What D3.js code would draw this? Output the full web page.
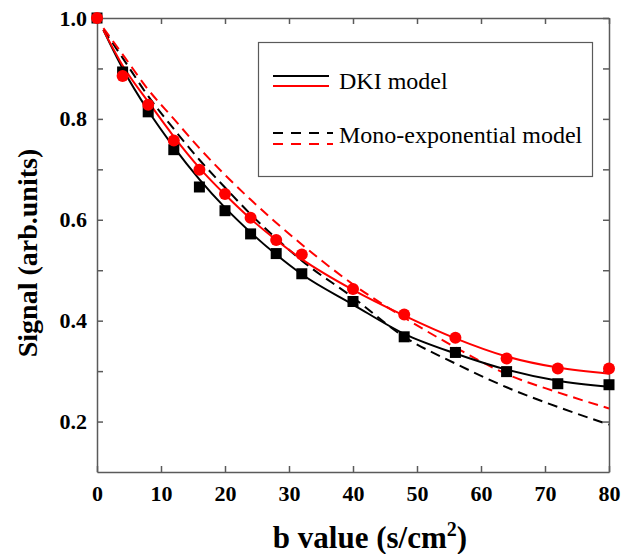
<!DOCTYPE html>
<html>
<head>
<meta charset="utf-8">
<script src="https://cdn.jsdelivr.net/npm/d3@7"></script>
<style>
  body { margin: 0; background: #fff; }
  .tick text { font-family: 'Liberation Serif', serif; font-weight: bold; font-size: 22px; fill: #000; }
  .axis path, .axis line { stroke: #5a5a5a; stroke-width: 1.5; }
</style>
</head>
<body>
<div id="chart-area"></div>
<script>
// measured points
const bValues = [0, 4, 8, 12, 16, 20, 24, 28, 32, 40, 48, 56, 64, 72, 80]
const blackSignal = [1.0, 0.893, 0.814, 0.739, 0.665, 0.618, 0.572, 0.533, 0.493, 0.438, 0.368, 0.337, 0.299, 0.275, 0.273]
const redSignal = [1.0, 0.885, 0.828, 0.757, 0.699, 0.651, 0.604, 0.560, 0.531, 0.463, 0.412, 0.366, 0.325, 0.305, 0.305]

// fitted curves
const fitB = [1, 4, 8, 12, 16, 20, 24, 28, 32, 40, 48, 56, 64, 72, 80]
const blackDKI = [0.976, 0.900, 0.816, 0.744, 0.680, 0.624, 0.575, 0.531, 0.492, 0.432, 0.374, 0.335, 0.303, 0.281, 0.269]
const redDKI = [0.976, 0.906, 0.834, 0.765, 0.703, 0.650, 0.602, 0.560, 0.522, 0.461, 0.410, 0.365, 0.329, 0.307, 0.295]
const blackMono = [0.977, 0.921, 0.845, 0.780, 0.719, 0.664, 0.611, 0.563, 0.519, 0.446, 0.368, 0.315, 0.268, 0.229, 0.194]
const redMono = [0.980, 0.928, 0.858, 0.800, 0.742, 0.689, 0.640, 0.594, 0.551, 0.472, 0.406, 0.347, 0.294, 0.258, 0.226]

const xTicks = [0, 10, 20, 30, 40, 50, 60, 70, 80]
const yTicks = [0.2, 0.3, 0.4, 0.5, 0.6, 0.7, 0.8, 0.9, 1.0]
const yTickLabels = ['0.2', '', '0.4', '', '0.6', '', '0.8', '', '1.0']

const width = 621
const height = 554

const svg = d3.select('#chart-area').append('svg')
  .attr('width', width)
  .attr('height', height)

const x = d3.scaleLinear()
  .domain([0, 80])
  .range([97, 609])

const y = d3.scaleLinear()
  .domain([0.1, 1.0])
  .range([472, 18])

// axes, ticks point inward
const xAxisCall = d3.axisBottom(x)
  .tickValues(xTicks)
  .tickSizeInner(-6)
  .tickSizeOuter(0)
  .tickPadding(13)
svg.append('g')
  .attr('class', 'axis')
  .attr('transform', `translate(0,${y(0.1)})`)
  .call(xAxisCall)

const yAxisCall = d3.axisLeft(y)
  .tickValues(yTicks)
  .tickSizeInner(-6)
  .tickSizeOuter(0)
  .tickPadding(10)
  .tickFormat((d, i) => yTickLabels[i])
svg.append('g')
  .attr('class', 'axis')
  .attr('transform', `translate(${x(0)},0)`)
  .call(yAxisCall)

svg.append('g')
  .attr('class', 'axis')
  .attr('transform', `translate(0,${y(1.0)})`)
  .call(d3.axisTop(x).tickValues(xTicks).tickSizeInner(-6).tickSizeOuter(0).tickFormat(''))

svg.append('g')
  .attr('class', 'axis')
  .attr('transform', `translate(${x(80)},0)`)
  .call(d3.axisRight(y).tickValues(yTicks).tickSizeInner(-6).tickSizeOuter(0).tickFormat(''))

svg.selectAll('.axis .domain').attr('stroke', '#5a5a5a')

// fitted lines
const line = d3.line()
  .x(d => x(d[0]))
  .y(d => y(d[1]))
  .curve(d3.curveMonotoneX)

const fits = [
  {vals: blackMono, color: '#000', dash: '10,6'},
  {vals: redMono, color: '#f00', dash: '10,6'},
  {vals: blackDKI, color: '#000', dash: null},
  {vals: redDKI, color: '#f00', dash: null}
]

fits.forEach(f => {
  svg.append('path')
    .datum(fitB.map((b, i) => [b, f.vals[i]]))
    .attr('fill', 'none')
    .attr('stroke', f.color)
    .attr('stroke-width', 2)
    .attr('stroke-dasharray', f.dash)
    .attr('d', line)
})

// data markers
svg.selectAll('.sq')
  .data(bValues.map((b, i) => [b, blackSignal[i]]))
  .enter().append('rect')
    .attr('class', 'sq')
    .attr('x', d => x(d[0]) - 5.5)
    .attr('y', d => y(d[1]) - 5.5)
    .attr('width', 11)
    .attr('height', 11)
    .attr('fill', '#000')

svg.selectAll('.dot')
  .data(bValues.map((b, i) => [b, redSignal[i]]))
  .enter().append('circle')
    .attr('class', 'dot')
    .attr('cx', d => x(d[0]))
    .attr('cy', d => y(d[1]))
    .attr('r', 6)
    .attr('fill', '#f00')

// legend
const legend = svg.append('g')
legend.append('rect')
  .attr('x', 258.5).attr('y', 42.5)
  .attr('width', 334).attr('height', 134)
  .attr('fill', '#fff')
  .attr('stroke', '#5a5a5a')
  .attr('stroke-width', 1.2)

const legendRows = [
  {y: 76, color: '#000', dash: null},
  {y: 86, color: '#f00', dash: null},
  {y: 133, color: '#000', dash: '10,8'},
  {y: 144, color: '#f00', dash: '10,8'}
]
legendRows.forEach(r => {
  legend.append('line')
    .attr('x1', 273).attr('x2', r.dash ? 333 : 329)
    .attr('y1', r.y).attr('y2', r.y)
    .attr('stroke', r.color)
    .attr('stroke-width', 2.2)
    .attr('stroke-dasharray', r.dash)
})

legend.append('text')
  .attr('x', 339).attr('y', 89)
  .style('font-family', "'Liberation Serif', serif")
  .style('font-size', '24px')
  .text('DKI model')

legend.append('text')
  .attr('x', 339).attr('y', 143)
  .style('font-family', "'Liberation Serif', serif")
  .style('font-size', '24px')
  .text('Mono-exponential model')

// axis titles
svg.append('text')
  .attr('transform', 'translate(37,253) rotate(-90)')
  .attr('text-anchor', 'middle')
  .style('font-family', "'Liberation Serif', serif")
  .style('font-weight', 'bold')
  .style('font-size', '28px')
  .text('Signal (arb.units)')

const xTitle = svg.append('text')
  .attr('x', 370).attr('y', 548)
  .attr('text-anchor', 'middle')
  .style('font-family', "'Liberation Serif', serif")
  .style('font-weight', 'bold')
  .style('font-size', '31px')
xTitle.append('tspan').text('b value (s/cm')
xTitle.append('tspan').attr('dy', -12).style('font-size', '20px').text('2')
xTitle.append('tspan').attr('dy', 12).text(')')
</script>
</body>
</html>
